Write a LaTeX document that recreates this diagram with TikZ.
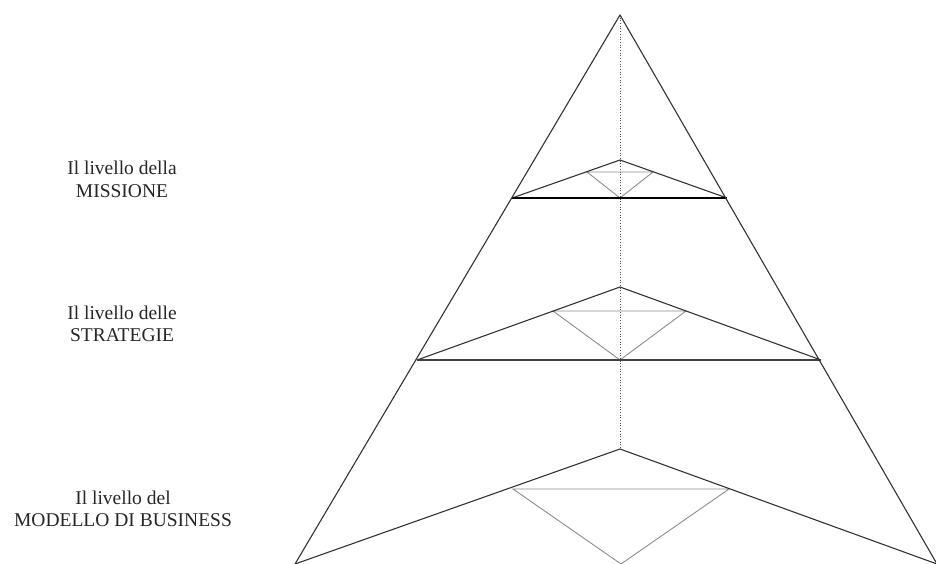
\documentclass[tikz,border=0pt]{standalone}
\usepackage{fontspec}
\setmainfont{Liberation Serif}
\begin{document}
\begin{tikzpicture}[x=1pt,y=-1pt,
  outer/.style={draw=black!80,line width=1.1pt,line join=round},
  baseline/.style={draw=black,line width=1.4pt},
  baselinelight/.style={draw=black!75,line width=1.2pt},
  inner/.style={draw=black!45,line width=0.9pt},
  axis/.style={draw=black!70,line width=0.7pt,dotted},
  lbl/.style={anchor=base,inner sep=0pt,text=black!85,font=\fontsize{19.5}{22}\selectfont}]
\useasboundingbox (0,0) rectangle (936,564);
\clip (0,0) rectangle (936,564);
% outer pyramid
\coordinate (A) at (620,15);
\coordinate (BL) at (295,564);
\coordinate (BR) at (937,564);
% mission level
\coordinate (M1) at (512,198);
\coordinate (M2) at (727,198);
\coordinate (MT) at (620,160);
\coordinate (MB) at (620,198);
\coordinate (Mg1) at (587,172);
\coordinate (Mg2) at (653,172);
% strategy level
\coordinate (S1) at (417,360);
\coordinate (S2) at (821,360);
\coordinate (ST) at (620,287);
\coordinate (SB) at (620,360);
\coordinate (Sg1) at (553,311);
\coordinate (Sg2) at (686,311);
% business level
\coordinate (BT) at (620,449);
\coordinate (BB) at (621,564);
\coordinate (Bg1) at (513,489);
\coordinate (Bg2) at (729,489);
% dotted axis
\draw[axis] (A) -- (BT);
% gray inner triangles
\draw[inner] (Mg1) -- (Mg2) -- (MB) -- cycle;
\draw[inner] (Sg1) -- (Sg2) -- (SB) -- cycle;
\draw[inner] (Bg1) -- (Bg2) -- (BB) -- cycle;
% level roofs
\draw[outer] (M1) -- (MT) -- (M2);
\draw[outer] (S1) -- (ST) -- (S2);
\draw[outer] (BL) -- (BT) -- (BR);
% level bases
\draw[baseline] (M1) -- (M2);
\draw[baselinelight] (S1) -- (S2);
% outer sides
\draw[outer] (BL) -- (A) -- (BR);
% labels
\node[lbl] (m1) at (122,175) {Il livello della};
\node[lbl] (m2) at (122,197) {MISSIONE};
\node[lbl] (s1) at (122,319) {Il livello delle};
\node[lbl] (s2) at (122,341) {STRATEGIE};
\node[lbl] (b1) at (123,504) {Il livello del};
\node[lbl] (b2) at (123,526) {MODELLO DI BUSINESS};
\end{tikzpicture}
\end{document}
